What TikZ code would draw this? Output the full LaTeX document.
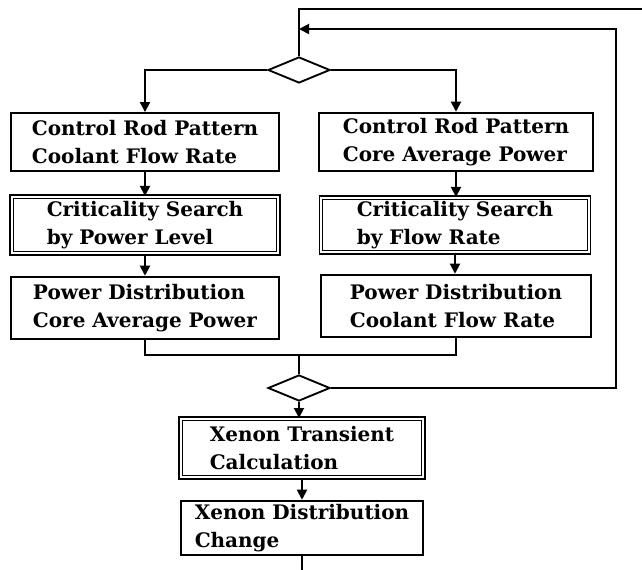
\documentclass[tikz,border=0pt]{standalone}
\usepackage{fontspec}
\setmainfont{DejaVu Serif}
\usetikzlibrary{shapes.geometric,arrows.meta}

\begin{document}
\begin{tikzpicture}[x=0.75pt,y=-0.75pt,
    every path/.style={line width=1.4pt},
    box/.style={draw,align=left,inner sep=0pt,font=\bfseries\fontsize{15}{20.5}\selectfont},
    dbox/.style={box,double,double distance=1.5pt,line width=1pt},
    dec/.style={draw,diamond,inner sep=0pt,minimum width=46.5pt,minimum height=19.5pt,aspect=2.4},
    arr/.style={-{Triangle[length=7.5pt,width=7.5pt]}}]
    \useasboundingbox (0,0) rectangle (642,570);

    \node[dec] (top) at (299,70) {};
    \node[dec] (join) at (299,388) {};

    \node[box,minimum width=201.5pt,minimum height=43.5pt] (rodL) at (145,142) {Control Rod Pattern\\Coolant Flow Rate};
    \node[dbox,minimum width=200pt,minimum height=42.5pt] (critL) at (145,225) {Criticality Search\\by Power Level};
    \node[box,minimum width=201pt,minimum height=47pt] (powL) at (145,308) {Power Distribution\\Core Average Power};

    \node[box,minimum width=205pt,minimum height=44pt] (rodR) at (456,142) {Control Rod Pattern\\Core Average Power};
    \node[dbox,minimum width=201pt,minimum height=41pt] (critR) at (455,225) {Criticality Search\\by Flow Rate};
    \node[box,minimum width=203pt,minimum height=47pt] (powR) at (456,306) {Power Distribution\\Coolant Flow Rate};

    \node[dbox,minimum width=182pt,minimum height=44pt] (xeT) at (302,448) {Xenon Transient\\Calculation};
    \node[box,minimum width=182pt,minimum height=41pt] (xeD) at (302,528) {Xenon Distribution\\Change};

    \coordinate (in) at (642,9);
    \coordinate (inC) at (299,9);
    \coordinate (back) at (616,29);
    \coordinate (merge) at (299,355);
    \coordinate (out) at (302,570);

    % entry and branches
    \draw (in) -- (inC) -- (top.north);
    \draw[arr] (top.west) -| (rodL.north);
    \draw[arr] (top.east) -| (rodR.north);

    \draw[arr] (rodL) -- (critL);
    \draw[arr] (critL) -- (powL);
    \draw[arr] (rodR.south) -- (rodR.south |- critR.north);
    \draw[arr] (critR.south) -- (critR.south |- powR.north);

    % merge
    \draw (powL.south) |- (merge) -| (powR.south);
    \draw (merge) -- (join.north);
    \draw[arr] (join.east) -| (back) -- (inC |- back);

    \draw[arr] (join.south) -- (join.south |- xeT.north);
    \draw[arr] (xeT.south) -- (xeT.south |- xeD.north);
    \draw (xeD.south) -- (out);
\end{tikzpicture}
\end{document}
